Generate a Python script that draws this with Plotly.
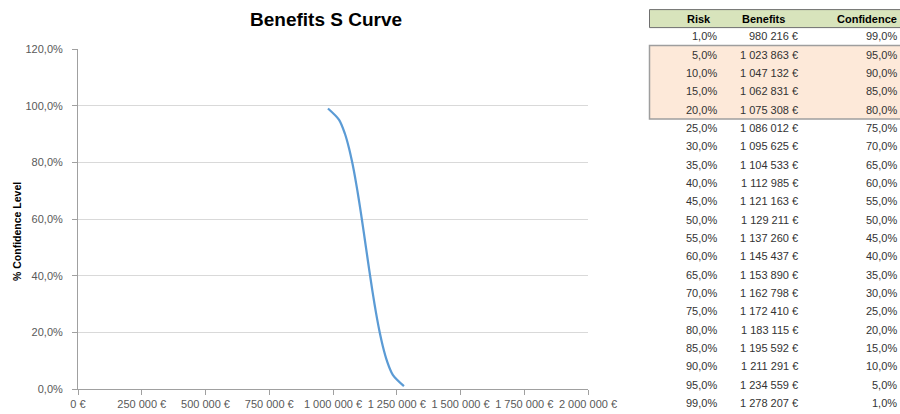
import plotly.graph_objects as go

# --- data -------------------------------------------------------------
risk_pct = [1, 5, 10, 15, 20, 25, 30, 35, 40, 45, 50, 55, 60, 65, 70, 75, 80, 85, 90, 95, 99]
benefits_eur = [980216, 1023863, 1047132, 1062831, 1075308, 1086012, 1095625, 1104533,
                1112985, 1121163, 1129211, 1137260, 1145437, 1153890, 1162798, 1172410,
                1183115, 1195592, 1211291, 1234559, 1278207]
confidence_pct = [99, 95, 90, 85, 80, 75, 70, 65, 60, 55, 50, 45, 40, 35, 30, 25, 20, 15, 10, 5, 1]
highlight_risk = [5, 10, 15, 20]

x_ticks = [0, 250000, 500000, 750000, 1000000, 1250000, 1500000, 1750000, 2000000]
y_ticks = [0, 20, 40, 60, 80, 100, 120]
table_headers = ["Risk", "Benefits", "Confidence"]

# --- formatting helpers -------------------------------------------------
def fmt_eur(v):
    return f"{v:,}".replace(",", " ") + " €"

def fmt_pct(v):
    return f"{v:.1f}".replace(".", ",") + "%"

# --- layout geometry (pixels) -------------------------------------------
W, H = 900, 414
ML, MR, MT, MB = 78, 312, 49, 25

def px_x(p):
    return (p - ML) / (W - ML - MR)

def px_y(p):
    return (H - MB - p) / (H - MT - MB)

fig = go.Figure()
fig.add_trace(go.Scatter(
    x=benefits_eur,
    y=[c / 100 for c in confidence_pct],
    mode="lines",
    line=dict(color="#5b9bd5", width=2.25, shape="spline", smoothing=0.8),
    hoverinfo="x+y",
    showlegend=False,
))

axis_grey = "#a0a0a0"
tick_font = dict(family="Liberation Sans, Arial, sans-serif", size=11, color="#595959")

fig.update_xaxes(
    range=[0, 2000000],
    tickvals=x_ticks,
    ticktext=[fmt_eur(v) if v else "0 €" for v in x_ticks],
    showgrid=False,
    showline=True, linecolor=axis_grey, linewidth=1,
    ticks="outside", ticklen=5, tickcolor=axis_grey,
    tickfont=tick_font,
    zeroline=False,
    automargin=False,
    fixedrange=True,
)
fig.update_yaxes(
    range=[0, 1.2],
    tickvals=[v / 100 for v in y_ticks],
    ticktext=[fmt_pct(v) for v in y_ticks],
    showgrid=True, gridcolor="#d9d9d9", gridwidth=1,
    showline=True, linecolor=axis_grey, linewidth=1,
    ticks="outside", ticklen=5, tickcolor=axis_grey,
    ticklabelstandoff=7,
    tickfont=tick_font,
    zeroline=False,
    automargin=False,
    fixedrange=True,
)

annotations = []
shapes = []

# chart title
annotations.append(dict(
    text="<b>Benefits S Curve</b>", xref="paper", yref="paper",
    x=px_x(326), y=px_y(19), xanchor="center", yanchor="middle",
    showarrow=False,
    font=dict(family="Liberation Sans, Arial, sans-serif", size=19, color="#000000"),
))

# y axis title
annotations.append(dict(
    text="<b>% Confidence Level</b>", xref="paper", yref="paper",
    x=px_x(17), y=px_y(232), xanchor="center", yanchor="middle",
    textangle=-90, showarrow=False,
    font=dict(family="Liberation Sans, Arial, sans-serif", size=10.5, color="#000000"),
))

# --- side table ---------------------------------------------------------
row0, row_h = 36.4, 18.33
header_y = 18.6
tbl_left, tbl_right = 649.5, 905

# header band
shapes.append(dict(
    type="rect", xref="paper", yref="paper",
    x0=px_x(tbl_left), x1=px_x(tbl_right), y0=px_y(header_y - 9), y1=px_y(header_y + 9),
    fillcolor="#d8e4bc", line=dict(color="#6f6f6f", width=1), layer="below",
))

# highlighted rows band
hi_idx = [risk_pct.index(r) for r in highlight_risk]
top = row0 + row_h * min(hi_idx) - row_h / 2
bot = row0 + row_h * max(hi_idx) + row_h / 2
shapes.append(dict(
    type="rect", xref="paper", yref="paper",
    x0=px_x(tbl_left), x1=px_x(tbl_right), y0=px_y(top), y1=px_y(bot),
    fillcolor="#fde9d9", line=dict(color="#9e9e9e", width=1.5), layer="below",
))

head_font = dict(family="Liberation Sans, Arial, sans-serif", size=11, color="#000000")
cell_font = dict(family="Liberation Sans, Arial, sans-serif", size=11, color="#333333")

header_pos = [(713, "right"), (763, "center"), (899, "right")]
for label, (hx, anchor) in zip(table_headers, header_pos):
    annotations.append(dict(
        text=f"<b>{label}</b>", xref="paper", yref="paper",
        x=px_x(hx), y=px_y(header_y), xanchor=anchor, yanchor="middle",
        showarrow=False, font=head_font,
    ))

col_right = [719, 800, 899]
for i, (r, b, c) in enumerate(zip(risk_pct, benefits_eur, confidence_pct)):
    yy = px_y(row0 + row_h * i)
    for txt, cx in zip([fmt_pct(r), fmt_eur(b), fmt_pct(c)], col_right):
        annotations.append(dict(
            text=txt, xref="paper", yref="paper",
            x=px_x(cx), y=yy, xanchor="right", yanchor="middle",
            showarrow=False, font=cell_font,
        ))

fig.update_layout(
    width=W, height=H,
    margin=dict(l=ML, r=MR, t=MT, b=MB, pad=0, autoexpand=False),
    paper_bgcolor="#ffffff", plot_bgcolor="#ffffff",
    annotations=annotations,
    shapes=shapes,
    showlegend=False,
)

fig.write_html("out.html", config={"displayModeBar": False})
